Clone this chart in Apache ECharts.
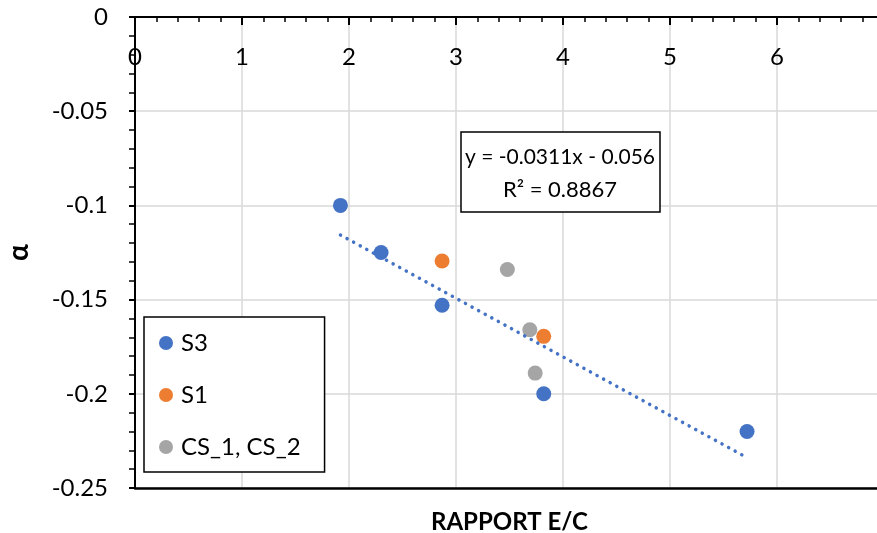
<!DOCTYPE html>
<html><head><meta charset="utf-8">
<script src="https://cdn.jsdelivr.net/npm/echarts@6/dist/echarts.min.js"></script>
<style>html,body{margin:0;padding:0;background:#fff}#c{width:877px;height:533px}</style>
</head><body><div id="c"></div>
<script>
// ---- data ----
const seriesNames = ['S3', 'S1', 'CS_1, CS_2'];
const s3X = [1.92, 2.30, 2.87, 3.82, 5.72];
const s3Y = [-0.100, -0.125, -0.153, -0.200, -0.220];
const s1X = [2.87, 3.82];
const s1Y = [-0.1295, -0.1695];
const csX = [3.48, 3.69, 3.74];
const csY = [-0.134, -0.166, -0.189];
// trendline of S3 (as shown in the chart)
const trendSlope = -0.0311;
const trendIntercept = -0.056;
const trendText = ['y = -0.0311x - 0.056', 'R\u00B2 = 0.8867'];
const xAxisTitle = 'RAPPORT E/C';
const yAxisTitle = '\u03B1';

const colors = ['#4472C4', '#ED7D31', '#A5A5A5'];
const FONT = 'Lato, "Open Sans", sans-serif';

function pairs(xs, ys) { return xs.map((x, i) => [x, ys[i]]); }
const tx0 = Math.min(...s3X), tx1 = Math.max(...s3X);
const trendData = [[tx0, trendSlope * tx0 + trendIntercept], [tx1, trendSlope * tx1 + trendIntercept]];

const chart = echarts.init(document.getElementById('c'), null, {renderer: 'canvas'});
chart.setOption({
  animation: false,
  backgroundColor: '#fff',
  grid: {left: 135, top: 17, width: 749, height: 471, outerBoundsMode: 'none'},
  xAxis: [{
    type: 'value', position: 'top', min: 0, max: 7, interval: 1,
    axisLine: {show: true, onZero: false, lineStyle: {color: '#000', width: 2}},
    axisTick: {show: true, inside: true, length: 8, lineStyle: {color: '#000', width: 2}},
    minorTick: {show: true, splitNumber: 5, length: 5, lineStyle: {color: '#000', width: 1.5}},
    axisLabel: {inside: true, margin: 28, fontSize: 24, fontFamily: FONT, color: '#000'},
    splitLine: {show: true, lineStyle: {color: '#D9D9D9', width: 1.5}}
  }, {
    type: 'value', position: 'bottom', min: 0, max: 7, interval: 1,
    axisLine: {show: true, onZero: false, lineStyle: {color: '#000', width: 2.5}},
    axisTick: {show: false}, axisLabel: {show: false}, splitLine: {show: false},
    name: xAxisTitle, nameLocation: 'middle', nameGap: 22,
    nameTextStyle: {fontSize: 24, fontWeight: 'bold', fontFamily: FONT, color: '#000'}
  }],
  yAxis: {
    type: 'value', min: -0.25, max: 0, interval: 0.05,
    axisLine: {show: true, onZero: false, lineStyle: {color: '#000', width: 2}},
    axisTick: {show: true, inside: false, length: 6, lineStyle: {color: '#000', width: 2}},
    minorTick: {show: true, splitNumber: 5, length: 6, lineStyle: {color: '#000', width: 1.5}},
    axisLabel: {margin: 27, fontSize: 24, fontFamily: FONT, color: '#000'},
    splitLine: {show: true, lineStyle: {color: '#D9D9D9', width: 1.5}},
    name: yAxisTitle, nameLocation: 'middle', nameGap: 102, nameRotate: 90,
    nameTextStyle: {fontSize: 28, fontWeight: 'bold', fontFamily: FONT, color: '#000'}
  },
  legend: {
    orient: 'vertical', left: 144, top: 317,
    data: seriesNames, icon: 'circle', itemWidth: 14, itemHeight: 14, itemGap: 28,
    padding: [14, 24, 13, 15],
    borderColor: '#000', borderWidth: 1.5, backgroundColor: '#fff',
    textStyle: {fontSize: 24, fontFamily: FONT, color: '#000', lineHeight: 24, padding: [0, 0, 0, 3]}
  },
  series: [
    {name: 'trend', type: 'line', xAxisIndex: 0, data: trendData, showSymbol: false, silent: true,
     lineStyle: {color: colors[0], width: 3.5, type: [0.1, 7.4], cap: 'round'}, z: 3},
    {name: seriesNames[0], type: 'scatter', xAxisIndex: 0, data: pairs(s3X, s3Y), symbolSize: 15, itemStyle: {color: colors[0], opacity: 1}, z: 2},
    {name: seriesNames[1], type: 'scatter', xAxisIndex: 0, data: pairs(s1X, s1Y), symbolSize: 15, itemStyle: {color: colors[1], opacity: 1}, z: 2},
    {name: seriesNames[2], type: 'scatter', xAxisIndex: 0, data: pairs(csX, csY), symbolSize: 15, itemStyle: {color: colors[2], opacity: 1}, z: 2}
  ],
  graphic: [
    {type: 'rect', shape: {x: 461, y: 132, width: 199, height: 80}, style: {fill: '#fff', stroke: '#000', lineWidth: 1.5}, z: 10},
    {type: 'text', x: 560, y: 157, style: {text: trendText[0], fontSize: 21, fontFamily: FONT, fill: '#000', align: 'center', verticalAlign: 'middle'}, z: 11},
    {type: 'text', x: 560, y: 190, style: {text: trendText[1], fontSize: 22, fontFamily: FONT, fill: '#000', align: 'center', verticalAlign: 'middle'}, z: 11}
  ]
});
</script></body></html>
